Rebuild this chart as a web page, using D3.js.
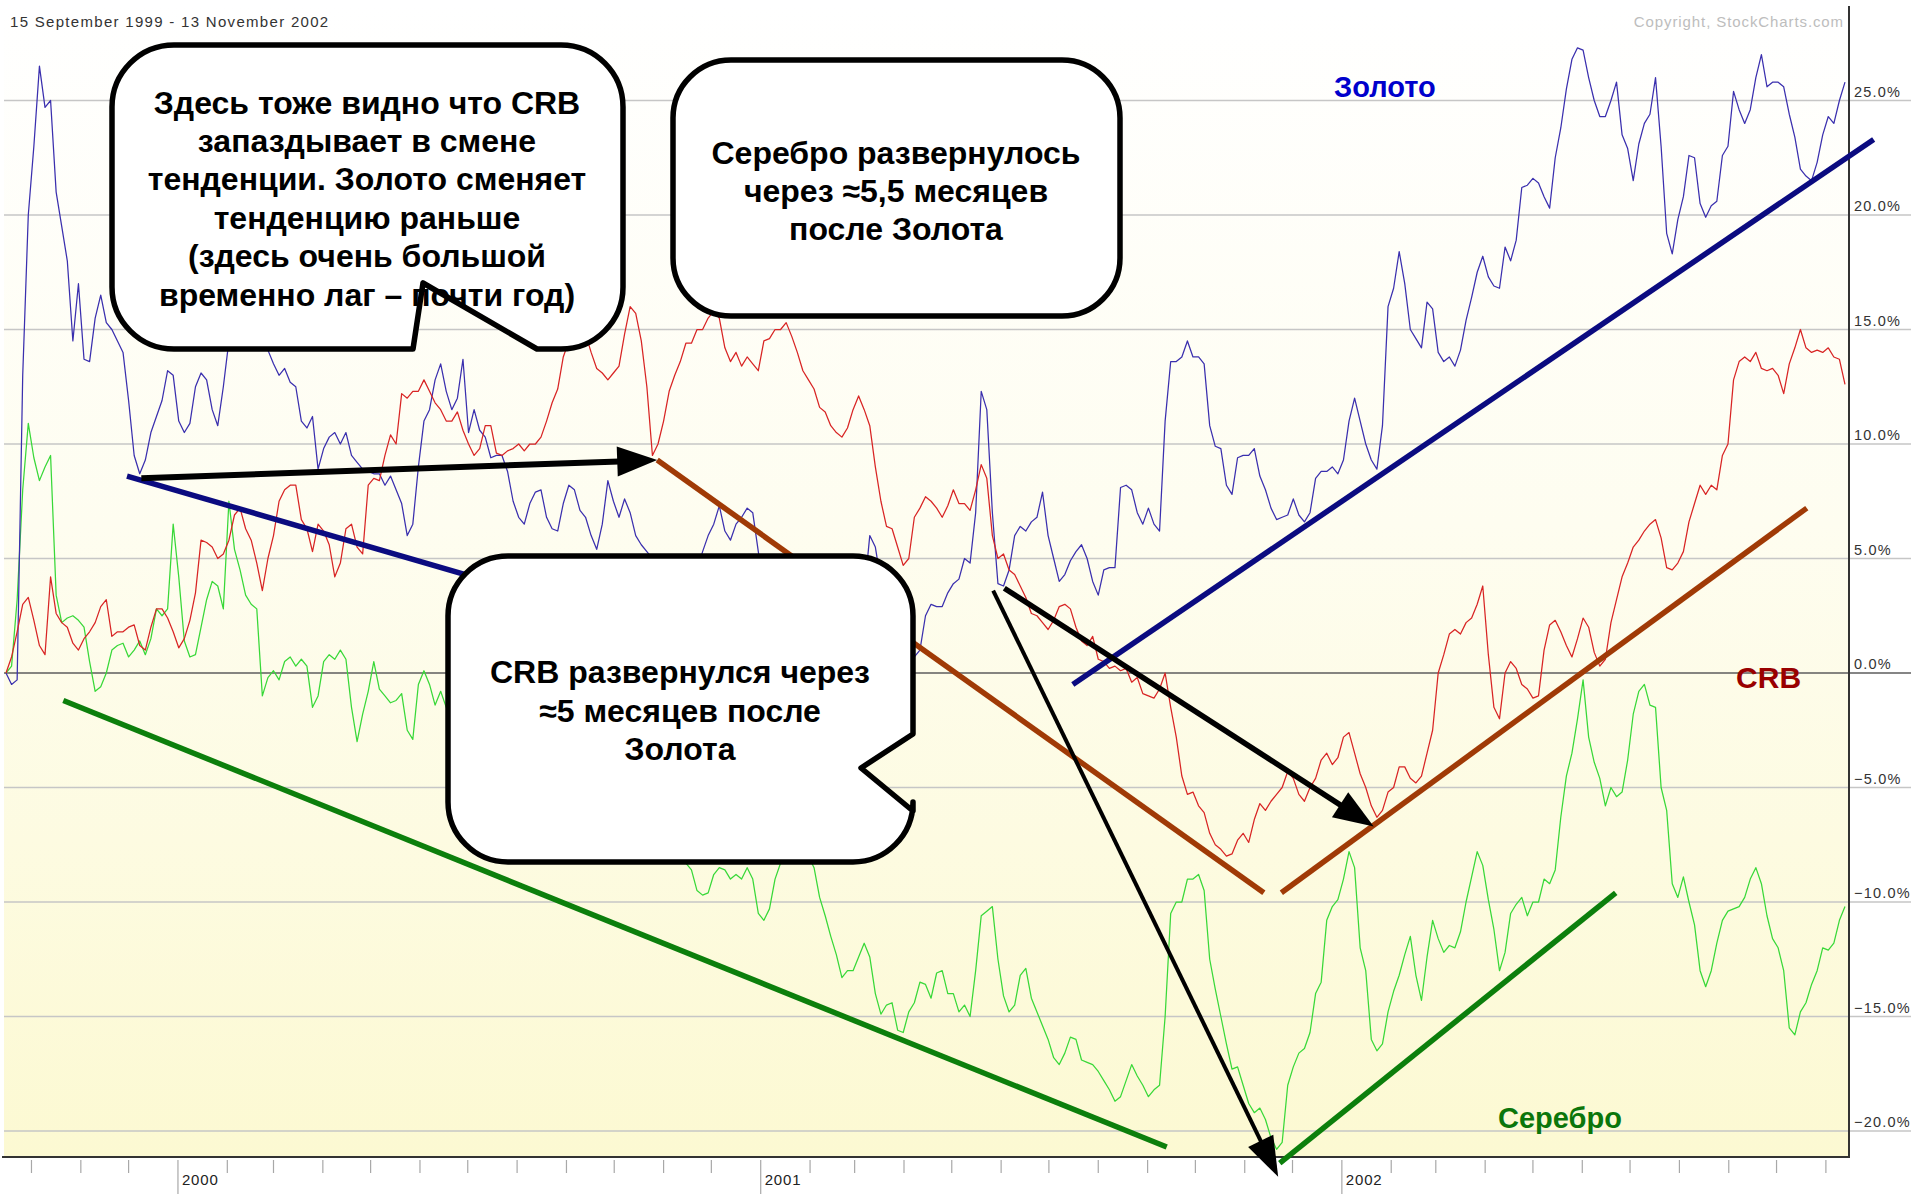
<!DOCTYPE html>
<html><head><meta charset="utf-8">
<script src="https://cdn.jsdelivr.net/npm/d3@7"></script>
<style>html,body{margin:0;padding:0;background:#fff;} svg{display:block;}</style>
</head><body>
<svg id="c" width="1911" height="1203"></svg>
<script>
// ---------------- DATA ----------------
const startDate = "1999-09-15";
const endDate = "2002-11-13";
const sampleStepHours = 84; // two readings per week (every 3.5 days)

// % change since 15 Sep 1999
const gold = [0,-0.5,-0.3,13,20,23,26.5,24.7,25.0,21.0,19.5,18.0,14.5,17.0,13.7,13.6,15.5,16.5,15.3,15.0,
14.5,14.0,11.9,9.5,8.7,9.3,10.5,11.2,11.9,13.2,13.0,11.0,10.5,10.9,12.5,13.1,12.8,11.5,10.8,12.5,
14.5,19,21,19,17,16,15.5,14.1,13.5,13.0,13.3,12.7,12.5,11.0,10.7,11.2,8.9,9.8,10.3,10.5,
10.0,10.5,9.5,9.2,8.9,8.8,8.7,8.7,8.2,8.6,8.0,7.4,6.0,6.5,9.0,11.0,11.5,12.8,13.5,12.3,
11.5,12.0,13.7,10.5,11.5,10.6,10.3,9.4,9.5,9.5,8.8,7.5,6.8,6.5,7.4,7.9,8.0,6.8,6.3,6.2,
7.4,8.2,8.0,7.1,6.8,6.0,5.4,6.5,8.4,7.5,6.8,7.6,7.0,6.0,5.6,5.3,5.0,4.0,3.5,3.0,
3.0,4.0,3.5,3.8,4.5,5.3,6.0,6.5,7.3,6.2,5.8,6.5,6.8,7.2,7.0,5.3,3.5,3.0,2.5,2.0,
2.0,3.0,2.5,2.0,1.5,1.0,1.0,2.0,1.5,1.0,2.0,1.5,1.0,2.0,3.5,6.0,5.5,4.0,3.0,2.0,
1.5,1.0,0.5,0.7,1.0,2.5,3.0,2.9,2.9,3.5,3.9,4.1,5.0,4.8,7.0,12.3,11.5,7.0,3.9,3.8,
4.5,6.0,6.4,6.2,6.6,6.8,7.9,6.0,5.0,4.0,4.3,4.9,5.3,5.6,5.0,4.0,3.4,4.5,4.6,4.6,
8.1,8.2,8.0,7.0,6.5,7.2,6.5,6.2,11.0,13.6,13.6,13.8,14.5,13.8,13.8,13.5,10.8,9.9,9.8,8.2,
7.8,9.4,9.5,9.5,9.8,8.6,8.0,7.2,6.7,6.8,6.9,7.6,6.9,6.6,7.0,8.5,8.8,8.8,9.0,8.7,
9.3,11.0,12.0,11.0,10.0,9.3,8.9,10.8,16.0,16.8,18.4,17.0,15.0,14.6,14.2,16.2,15.9,14.0,13.6,13.8,
13.4,14.1,15.4,16.4,17.5,18.2,17.3,16.9,16.8,18.6,18.0,18.9,21.2,21.3,21.6,21.4,20.8,20.3,22.5,23.8,
25.5,26.8,27.3,27.2,26.0,25.0,24.3,24.3,25.0,25.8,23.5,22.9,21.5,23.1,24.0,24.4,26.0,23.0,19.2,18.3,
19.8,20.8,22.6,22.5,20.5,19.9,20.4,20.6,22.6,23.0,25.4,24.6,24.0,24.6,26.0,27.0,25.6,25.8,25.8,25.6,
24.4,23.4,22.0,21.7,21.5,22.3,23.5,24.3,24.0,25.0,25.8];

const crb = [0,0.7,1.8,3.0,3.3,2.3,1.2,0.8,4.2,2.6,2.2,2.0,1.3,1.0,1.5,1.8,2.2,2.9,3.2,1.6,
1.8,1.8,2.0,2.1,1.2,1.0,2.0,2.8,2.8,2.4,1.8,1.1,1.5,2.3,3.5,5.8,5.7,5.5,5.0,5.2,
5.8,6.9,7.2,6.3,5.8,4.8,3.6,5.0,6.0,7.5,8.0,8.2,8.2,6.7,6.3,5.3,6.5,6.2,5.6,4.2,
4.8,6.3,6.5,5.5,5.2,8.2,8.5,8.4,9.5,10.4,10.0,12.2,12.0,12.3,12.3,12.8,12.3,11.8,11.5,11.0,
11.0,11.4,10.6,10.0,9.5,9.8,10.8,10.8,9.6,9.5,9.7,9.8,10.0,9.7,10.0,10.0,10.3,11.0,11.8,12.4,
13.8,14.5,15.2,15.4,14.8,14.0,13.3,13.1,12.8,13.1,13.4,14.8,16.0,15.7,14.5,12.5,9.5,10.0,11.0,12.3,
13.0,13.6,14.4,14.4,15.0,15.0,15.5,15.8,15.5,14.2,13.6,14.0,13.4,13.8,13.5,13.2,14.5,14.6,15.0,15.0,
15.3,14.7,14.0,13.2,12.8,12.4,11.6,11.4,10.8,10.5,10.3,10.7,11.5,12.1,11.5,10.8,9.0,7.5,6.4,6.3,
5.5,4.7,5.0,6.8,7.2,7.7,7.5,7.2,6.8,7.3,8.0,7.4,7.4,7.1,8.0,9.1,8.5,6.0,5.0,5.2,
4.5,4.3,3.8,3.3,2.6,2.5,2.2,1.9,2.3,2.9,3.0,2.8,2.0,1.4,1.2,1.6,0.6,0.5,0.2,0.3,
0.1,0.2,-0.4,-0.2,-0.9,-1.0,-1.1,-0.7,0.0,-1.5,-2.8,-4.5,-5.3,-5.2,-5.8,-6.1,-7.0,-7.5,-7.7,-8.0,
-7.9,-7.3,-7.0,-7.4,-6.4,-5.7,-6.0,-5.6,-5.3,-5.0,-4.3,-4.6,-5.3,-5.6,-5.0,-4.6,-3.8,-3.5,-4.0,-3.7,
-2.8,-2.6,-3.5,-4.4,-5.0,-5.8,-6.3,-6.0,-5.2,-5.0,-4.1,-4.1,-4.6,-4.8,-4.5,-3.5,-2.5,0.0,0.8,1.7,
1.9,1.7,2.2,2.4,3.0,3.8,0.8,-1.5,-2.0,0.0,0.5,0.2,-0.5,-0.7,-1.1,-1.0,1.0,2.1,2.3,1.8,
1.2,0.7,1.5,2.4,2.0,0.9,0.3,0.6,2.2,3.2,4.2,4.8,5.5,5.8,6.2,6.5,6.7,5.9,4.6,4.5,
4.8,5.3,6.6,7.4,8.2,7.8,8.2,8.0,9.5,10.0,12.8,13.6,13.8,13.6,14.0,13.3,13.2,13.3,13.0,12.2,
13.5,14.2,15.0,14.2,14.0,14.1,14.0,14.2,13.8,13.7,12.6];

const silver = [0,0.3,3.2,8.0,10.9,9.4,8.4,9.0,9.5,3.4,2.2,2.4,2.5,2.3,2.0,0.5,-0.8,-0.6,0.0,1.0,
1.2,1.3,0.7,1.0,1.4,0.8,1.5,2.8,2.5,2.8,6.5,4.2,1.4,0.7,0.8,2.0,3.2,4.0,3.8,2.8,
7.5,5.4,4.5,3.4,3.0,2.8,-1.0,-0.2,0.1,-0.3,0.5,0.7,0.3,0.6,0.3,-1.5,-1.0,0.5,0.8,0.6,
1.0,0.6,-1.5,-3.0,-1.8,-0.8,0.5,-0.7,-1.0,-1.3,-1.2,-0.9,-2.5,-2.9,-0.5,0.1,-0.5,-1.4,-0.8,-1.5,
-2.0,-2.5,-3.0,-2.0,-2.5,-3.5,-4.0,-3.0,-3.5,-4.2,-4.5,-3.5,-4.0,-5.0,-5.5,-4.5,-5.0,-5.8,-6.0,-5.0,
-5.5,-6.2,-6.5,-6.0,-7.0,-6.5,-6.0,-6.8,-7.0,-7.2,-7.5,-7.0,-6.5,-7.2,-7.5,-7.0,-7.8,-7.5,-7.0,-7.3,
-7.8,-7.9,-8.3,-8.6,-9.5,-9.7,-9.6,-8.8,-8.5,-8.6,-9.0,-8.8,-9.0,-8.5,-9.0,-10.5,-10.8,-10.3,-9.0,-8.3,
-7.5,-7.0,-7.5,-7.8,-8.0,-8.5,-9.8,-10.6,-11.5,-12.3,-13.3,-13.0,-13.0,-12.4,-11.8,-12.4,-14.0,-14.9,-14.5,-14.4,
-15.6,-15.7,-14.8,-14.4,-13.5,-13.6,-14.2,-13.1,-13.0,-14.0,-14.0,-14.8,-14.5,-15.0,-13.0,-10.6,-10.4,-10.2,-12.5,-14.1,
-14.8,-14.5,-13.2,-12.9,-14.2,-14.8,-15.4,-16.0,-16.8,-17.1,-16.6,-15.9,-16.0,-16.9,-17.0,-17.1,-17.4,-17.8,-18.2,-18.7,
-18.5,-17.8,-17.1,-17.6,-18.0,-18.5,-18.2,-18.0,-15.0,-10.5,-10.0,-10.0,-9.0,-9.0,-8.8,-9.5,-12.5,-13.8,-15.0,-16.2,
-17.3,-17.2,-18.0,-18.8,-19.2,-19.0,-19.5,-20.3,-20.8,-20.5,-18.0,-17.2,-16.6,-16.4,-15.7,-14.0,-13.5,-10.8,-10.2,-9.9,
-9.0,-7.8,-8.5,-12.0,-13.0,-16.0,-16.5,-16.2,-14.8,-13.9,-13.2,-12.3,-11.5,-13.2,-14.3,-12.4,-10.8,-11.6,-12.2,-11.9,
-12.0,-11.3,-10.0,-8.9,-7.8,-8.4,-9.9,-11.2,-13.0,-12.2,-10.5,-10.1,-9.8,-10.6,-10.0,-10.0,-9.0,-9.2,-8.6,-6.3,
-4.5,-3.5,-2.0,-0.3,-2.8,-3.9,-4.6,-5.8,-5.0,-5.4,-5.2,-3.8,-1.8,-0.8,-0.5,-1.4,-1.5,-5.0,-6.0,-9.2,
-9.8,-8.9,-10.0,-11.0,-13.0,-13.7,-13.0,-11.8,-10.8,-10.4,-10.3,-10.2,-9.8,-9.0,-8.5,-9.2,-10.6,-11.6,-12.0,-13.0,
-15.5,-15.8,-14.8,-14.4,-13.6,-13.0,-12.0,-12.1,-11.8,-10.8,-10.2];

const yTicks = [25,20,15,10,5,0,-5,-10,-15,-20];
const yearTicks = ["2000-01-01","2001-01-01","2002-01-01"];
const yearLabels = ["2000","2001","2002"];

// annotation lines in data coordinates [date, value]
const trendBlue1 = [["1999-11-30",8.6],["2000-08-03",3.6]];
const trendBlue2 = [["2001-07-16",-0.5],["2002-12-01",23.3]];
const trendBrown1 = [["2000-10-28",9.3],["2001-11-13",-9.6]];
const trendBrown2 = [["2001-11-24",-9.6],["2002-10-20",7.2]];
const trendGreen1 = [["1999-10-21",-1.2],["2001-09-13",-20.7]];
const trendGreen2 = [["2001-11-23",-21.4],["2002-06-22",-9.6]];
const arrow1 = [["1999-12-09",8.5],["2000-10-28",9.3]];
const arrow2 = [["2001-06-03",3.7],["2002-01-21",-6.7]];
const arrow3 = [["2001-05-27",3.6],["2001-11-22",-22.0]];

const seriesNames = ["Золото","CRB","Серебро"];
const seriesLabelPos = [["2002-01-28",25.6],["2002-09-26",-0.2],["2002-05-18",-19.4]];

const box1Lines = ["Здесь тоже видно что CRB","запаздывает в смене","тенденции. Золото сменяет","тенденцию раньше","(здесь очень большой","временно лаг – почти год)"];
const box2Lines = ["Серебро развернулось","через ≈5,5 месяцев","после Золота"];
const box3Lines = ["CRB развернулся через","≈5 месяцев после","Золота"];

const headerText = "15 September 1999 - 13 November 2002";
const copyrightText = "Copyright, StockCharts.com";

// ---------------- LAYOUT ----------------
const W = 1911, H = 1203;
const P = {left:4, right:1849, top:6, bottom:1157};
const parse = d3.timeParse("%Y-%m-%d");
const FONT = "'Liberation Sans', Arial, Helvetica, sans-serif";

const x = d3.scaleTime().domain([parse(startDate), parse(endDate)]).range([6, 1845]);
const y = d3.scaleLinear().domain([-20, 25]).range([1131, 100.5]);

const svg = d3.select("#c");
const defs = svg.append("defs");
const grad = defs.append("linearGradient").attr("id","bg").attr("x1",0).attr("y1",0).attr("x2",0).attr("y2",1);
grad.append("stop").attr("offset","0%").attr("stop-color","#ffffff");
grad.append("stop").attr("offset","45%").attr("stop-color","#fefdf0");
grad.append("stop").attr("offset","100%").attr("stop-color","#fcf9d2");
defs.append("clipPath").attr("id","clip").append("rect")
  .attr("x",P.left).attr("y",P.top).attr("width",P.right-P.left).attr("height",P.bottom-P.top);

svg.append("rect").attr("x",0).attr("y",0).attr("width",W).attr("height",H).attr("fill","#fff");
svg.append("rect").attr("x",P.left).attr("y",P.top).attr("width",P.right-P.left).attr("height",P.bottom-P.top).attr("fill","url(#bg)");

// gridlines
svg.append("g").selectAll("line").data(yTicks).join("line")
  .attr("x1",P.left).attr("x2",W).attr("y1",d=>y(d)).attr("y2",d=>y(d))
  .attr("stroke",d=>d===0?"#5c5c5c":"#c6c6c6").attr("stroke-width",1.6);

// y labels
svg.append("g").selectAll("text").data(yTicks).join("text")
  .attr("x",1854).attr("y",d=>y(d)-4)
  .attr("font-family",FONT).attr("font-size",14.5).attr("letter-spacing",1.2)
  .attr("fill","#333").text(d=>d3.format(".1f")(d)+"%");

// series
const toPts = arr => arr.map((v,i)=>({date:d3.timeHour.offset(parse(startDate), i*sampleStepHours), v}));
const line = d3.line().x(d=>x(d.date)).y(d=>y(d.v));
const gSeries = svg.append("g").attr("clip-path","url(#clip)");
[[silver,"#38d838"],[gold,"#3a2fae"],[crb,"#d82424"]].forEach(([arr,col])=>{
  gSeries.append("path").datum(toPts(arr)).attr("d",line)
    .attr("fill","none").attr("stroke",col).attr("stroke-width",1.25).attr("stroke-linejoin","round");
});

// borders
svg.append("line").attr("x1",P.right).attr("x2",P.right).attr("y1",P.top).attr("y2",P.bottom).attr("stroke","#333").attr("stroke-width",2);
svg.append("line").attr("x1",P.left-2).attr("x2",P.right+1).attr("y1",P.bottom).attr("y2",P.bottom).attr("stroke","#333").attr("stroke-width",2.2);

// x axis ticks
const months = d3.timeMonth.range(d3.timeMonth.ceil(parse(startDate)), parse(endDate));
const yearSet = new Set(yearTicks);
const fmt = d3.timeFormat("%Y-%m-%d");
svg.append("g").selectAll("line").data(months).join("line")
  .attr("x1",d=>x(d)).attr("x2",d=>x(d))
  .attr("y1",1160).attr("y2",d=>yearSet.has(fmt(d))?1194:1173)
  .attr("stroke","#a8a8a8").attr("stroke-width",1.2);
svg.append("g").selectAll("text").data(yearTicks).join("text")
  .attr("x",d=>x(parse(d))+4).attr("y",1185)
  .attr("font-family",FONT).attr("font-size",15).attr("letter-spacing",0.8)
  .attr("fill","#222").text((d,i)=>yearLabels[i]);

// header texts
svg.append("text").attr("x",10).attr("y",27).attr("font-family",FONT).attr("font-size",15)
  .attr("letter-spacing",1.3).attr("fill","#333").text(headerText);
svg.append("text").attr("x",1844).attr("y",27).attr("text-anchor","end").attr("font-family",FONT)
  .attr("font-size",15).attr("letter-spacing",0.9).attr("fill","#bdbdbd").text(copyrightText);

// trend lines
const segLine = d3.line().x(d=>x(parse(d[0]))).y(d=>y(d[1]));
[[trendBlue1,"#0b0b80"],[trendBlue2,"#0b0b80"],[trendBrown1,"#a03a06"],[trendBrown2,"#a03a06"],
 [trendGreen1,"#0c7f0c"],[trendGreen2,"#0c7f0c"]].forEach(([seg,col])=>{
  svg.append("path").attr("d",segLine(seg)).attr("stroke",col).attr("stroke-width",5.5).attr("fill","none");
});

// arrows
function drawArrow(seg, w, headLen, headHalf){
  const x0=x(parse(seg[0][0])), y0=y(seg[0][1]), x1=x(parse(seg[1][0])), y1=y(seg[1][1]);
  const dx=x1-x0, dy=y1-y0, L=Math.hypot(dx,dy), ux=dx/L, uy=dy/L;
  const bx=x1-ux*headLen, by=y1-uy*headLen;
  svg.append("line").attr("x1",x0).attr("y1",y0).attr("x2",bx+ux*2).attr("y2",by+uy*2)
    .attr("stroke","#000").attr("stroke-width",w);
  svg.append("polygon").attr("points",[[x1,y1],[bx-uy*headHalf,by+ux*headHalf],[bx+uy*headHalf,by-ux*headHalf]].map(p=>p.join(",")).join(" "))
    .attr("fill","#000");
}
drawArrow(arrow1,6,40,15);
drawArrow(arrow2,5.5,40,15);
drawArrow(arrow3,4,40,14);

// callouts
function boxPath(x0,y0,x1,y1,r,extra){
  let p = `M${x0+r},${y0} H${x1-r} A${r},${r} 0 0 1 ${x1},${y0+r} `;
  if(extra && extra.side==="right"){ p += extra.pts.map(q=>`L${q[0]},${q[1]} `).join(""); }
  p += `V${y1-r} A${r},${r} 0 0 1 ${x1-r},${y1} `;
  if(extra && extra.side==="bottom"){ p += extra.pts.map(q=>`L${q[0]},${q[1]} `).join(""); }
  p += `H${x0+r} A${r},${r} 0 0 1 ${x0},${y1-r} V${y0+r} A${r},${r} 0 0 1 ${x0+r},${y0} Z`;
  return p;
}
function callout(spec, lines){
  const g = svg.append("g");
  const d = boxPath(spec.x0,spec.y0,spec.x1,spec.y1,spec.r,spec.extra);
  g.append("path").attr("d",d).attr("fill","#fff");
  g.selectAll("text").data(lines).join("text")
    .attr("x",spec.cx).attr("y",(t,i)=>spec.cy+i*spec.step+spec.fs*0.36)
    .attr("text-anchor","middle").attr("font-family",FONT).attr("font-weight","bold")
    .attr("font-size",spec.fs).attr("fill","#000").text(t=>t);
  g.append("path").attr("d",d).attr("fill","none").attr("stroke","#000").attr("stroke-width",5.5).attr("stroke-linejoin","round");
}
callout({x0:112,y0:45,x1:623,y1:349,r:62,cx:367,cy:102,step:38.4,fs:32,
  extra:{side:"bottom",pts:[[537,349],[423,283],[413,349]]}}, box1Lines);
callout({x0:673,y0:60,x1:1120,y1:316,r:58,cx:896,cy:152,step:38,fs:32}, box2Lines);
callout({x0:448,y0:556,x1:913,y1:862,r:60,cx:680,cy:671.5,step:38.5,fs:32,
  extra:{side:"right",pts:[[913,734],[861,768],[913,811]]}}, box3Lines);

// series labels
const labelColors = ["#0000cc","#990000","#0b760b"];
const labelSizes = [29,30,29];
svg.append("g").selectAll("text").data(seriesNames).join("text")
  .attr("x",(d,i)=>x(parse(seriesLabelPos[i][0])))
  .attr("y",(d,i)=>y(seriesLabelPos[i][1])+labelSizes[i]*0.36)
  .attr("text-anchor","middle").attr("font-family",FONT).attr("font-weight","bold")
  .attr("font-size",(d,i)=>labelSizes[i]).attr("fill",(d,i)=>labelColors[i]).text(d=>d);
</script>
</body></html>
